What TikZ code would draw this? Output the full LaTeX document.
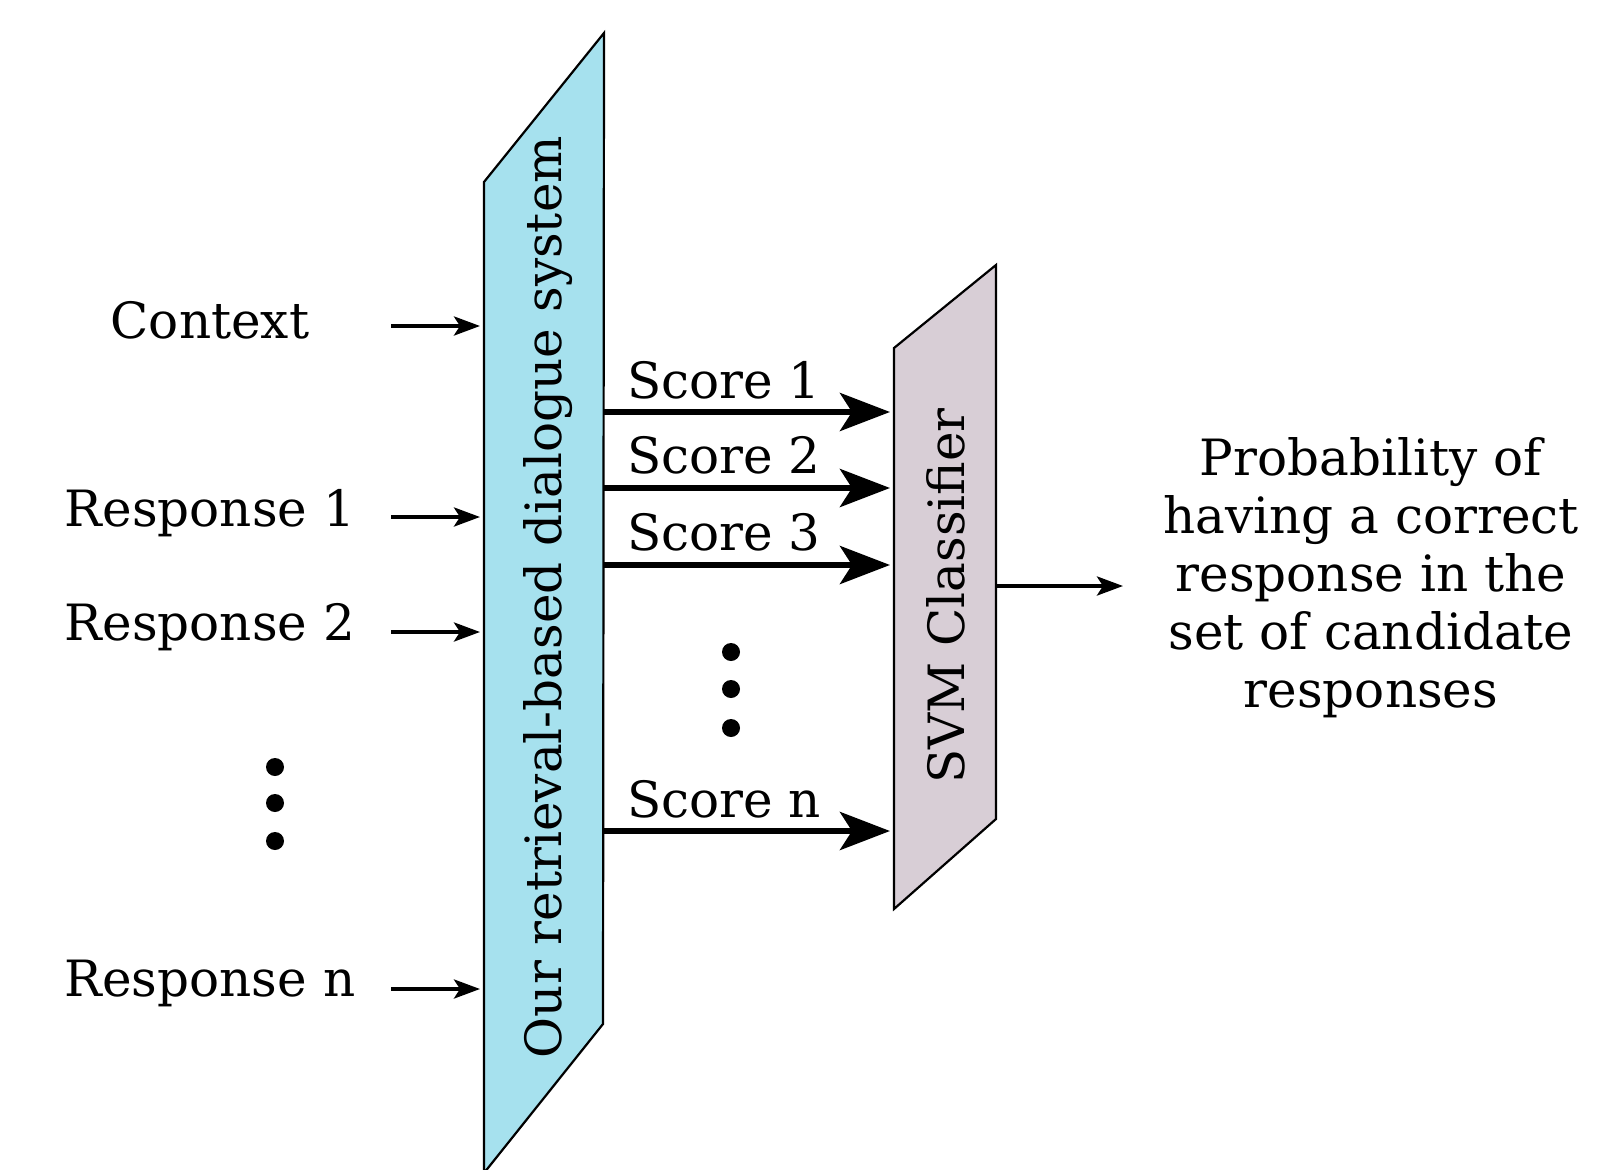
\documentclass[tikz,border=0pt]{standalone}
\usepackage{fontspec}
\setmainfont{DejaVu Serif}
\usetikzlibrary{arrows.meta}
\definecolor{sysblue}{RGB}{166,225,238}
\definecolor{svmmauve}{RGB}{216,206,214}
\begin{document}
\begin{tikzpicture}[x=1pt,y=-1pt,
  lbl/.style={font=\fontsize{50}{58}\selectfont, inner sep=0pt, anchor=center},
  inarrow/.style={line width=4pt, -{Stealth[length=26pt,width=19pt,inset=6pt]}},
  scorearrow/.style={line width=6pt, -{Stealth[length=50pt,width=38pt,inset=12pt]}},
  boxline/.style={line width=2.2pt, line join=miter},
  dot/.style={circle, fill=black, inner sep=0pt, minimum size=18pt}]
\useasboundingbox (0,0) rectangle (1623,1170);
% system box
\draw[boxline, fill=sysblue] (484,182) -- (604,33) -- (603,1024) -- (484,1173) -- cycle;
\node[lbl, rotate=90] (sys) at (548,597) {Our retrieval-based dialogue system};
% SVM box
\draw[boxline, fill=svmmauve] (894,348) -- (996,265) -- (996,819) -- (894,909) -- cycle;
\node[lbl, rotate=90] (svm) at (946,596) {SVM Classifier};
% inputs
\node[lbl] (ctx) at (210,320) {Context};
\node[lbl] (r1) at (210,513) {Response 1};
\node[lbl] (r2) at (210,627) {Response 2};
\node[lbl] (rn) at (210,983) {Response n};
\node[dot] (ld1) at (275,767) {};
\node[dot] (ld2) at (275,803) {};
\node[dot] (ld3) at (275,841) {};
\coordinate (ctxs) at (391,326); \coordinate (ctxe) at (480,326);
\coordinate (r1s) at (391,517); \coordinate (r1e) at (480,517);
\coordinate (r2s) at (391,632); \coordinate (r2e) at (480,632);
\coordinate (rns) at (391,989); \coordinate (rne) at (480,989);
\draw[inarrow] (ctxs) -- (ctxe);
\draw[inarrow] (r1s) -- (r1e);
\draw[inarrow] (r2s) -- (r2e);
\draw[inarrow] (rns) -- (rne);
% scores
\coordinate (s1s) at (603,412); \coordinate (s1e) at (890,412);
\coordinate (s2s) at (603,488); \coordinate (s2e) at (890,488);
\coordinate (s3s) at (603,565); \coordinate (s3e) at (890,565);
\coordinate (sns) at (603,831); \coordinate (sne) at (890,831);
\draw[scorearrow] (s1s) -- (s1e);
\draw[scorearrow] (s2s) -- (s2e);
\draw[scorearrow] (s3s) -- (s3e);
\draw[scorearrow] (sns) -- (sne);
\node[lbl] (sc1) at (724,380) {Score 1};
\node[lbl] (sc2) at (724,455) {Score 2};
\node[lbl] (sc3) at (724,532) {Score 3};
\node[lbl] (scn) at (724,799) {Score n};
\node[dot] (md1) at (731,652) {};
\node[dot] (md2) at (731,689) {};
\node[dot] (md3) at (731,728) {};
% output
\coordinate (outs) at (996,586); \coordinate (oute) at (1123,586);
\draw[inarrow] (outs) -- (oute);
\node[lbl, align=center] (prob) at (1371,578) {Probability of\\having a correct\\response in the\\set of candidate\\responses};
\end{tikzpicture}
\end{document}
